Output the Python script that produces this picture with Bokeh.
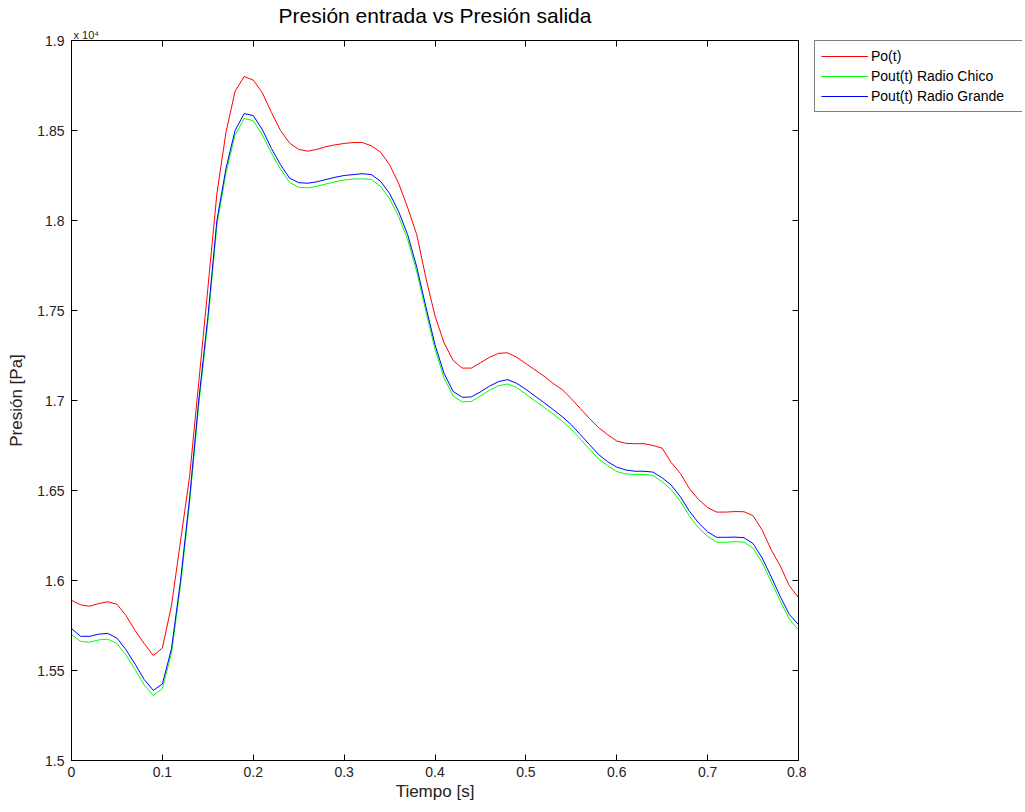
from bokeh.plotting import figure
from bokeh.layouts import row
from bokeh.models import (LinearAxis, FixedTicker, NumeralTickFormatter, CustomJSTickFormatter,
                          Legend, LegendItem, Title, Range1d)
from bokeh.embed import file_html
from bokeh.resources import INLINE

# Tiempo [s]
t = [0.00, 0.01, 0.02, 0.03, 0.04, 0.05, 0.06, 0.07, 0.08, 0.09,
     0.10, 0.11, 0.12, 0.13, 0.14, 0.15, 0.16, 0.17, 0.18, 0.19,
     0.20, 0.21, 0.22, 0.23, 0.24, 0.25, 0.26, 0.27, 0.28, 0.29,
     0.30, 0.31, 0.32, 0.33, 0.34, 0.35, 0.36, 0.37, 0.38, 0.39,
     0.40, 0.41, 0.42, 0.43, 0.44, 0.45, 0.46, 0.47, 0.48, 0.49,
     0.50, 0.51, 0.52, 0.53, 0.54, 0.55, 0.56, 0.57, 0.58, 0.59,
     0.60, 0.61, 0.62, 0.63, 0.64, 0.65, 0.66, 0.67, 0.68, 0.69,
     0.70, 0.71, 0.72, 0.73, 0.74, 0.75, 0.76, 0.77, 0.78, 0.79, 0.80]

# Po(t) [Pa]
po = [15890, 15865, 15857, 15872, 15882, 15868, 15805, 15722, 15650, 15583,
      15625, 15860, 16220, 16580, 17100, 17620, 18150, 18490, 18718, 18800,
      18780, 18710, 18600, 18500, 18430, 18395, 18385, 18395, 18410, 18420,
      18428, 18433, 18433, 18415, 18380, 18310, 18206, 18070, 17920, 17680,
      17470, 17320, 17222, 17180, 17180, 17210, 17240, 17262, 17265, 17240,
      17205, 17170, 17135, 17095, 17060, 17010, 16955, 16900, 16850, 16810,
      16775, 16762, 16760, 16760, 16750, 16735, 16655, 16595, 16510, 16450,
      16405, 16380, 16380, 16383, 16382, 16360, 16280, 16170, 16080, 15970, 15905]

# Pout(t) Radio Chico [Pa]
pout_chico = [15700, 15662, 15657, 15670, 15674, 15650, 15585, 15505, 15420, 15361,
              15400, 15595, 15975, 16435, 16975, 17435, 17975, 18265, 18475, 18567,
              18555, 18475, 18375, 18285, 18212, 18185, 18181, 18190, 18203, 18215,
              18225, 18230, 18231, 18228, 18190, 18122, 18022, 17893, 17715, 17495,
              17285, 17125, 17025, 16992, 16995, 17025, 17057, 17082, 17092, 17072,
              17035, 16998, 16962, 16925, 16885, 16840, 16785, 16730, 16675, 16638,
              16605, 16592, 16589, 16590, 16584, 16548, 16505, 16440, 16358, 16292,
              16245, 16213, 16212, 16216, 16213, 16180, 16100, 15993, 15885, 15785, 15726]

# Pout(t) Radio Grande [Pa]
pout_grande = [15733, 15690, 15690, 15702, 15706, 15680, 15615, 15535, 15450, 15390,
               15425, 15620, 16000, 16460, 17000, 17461, 18000, 18290, 18500, 18594,
               18583, 18505, 18400, 18310, 18235, 18210, 18207, 18215, 18228, 18240,
               18250, 18255, 18260, 18255, 18218, 18150, 18050, 17920, 17740, 17520,
               17310, 17150, 17050, 17018, 17020, 17048, 17080, 17105, 17116, 17095,
               17062, 17025, 16988, 16950, 16910, 16865, 16810, 16755, 16700, 16660,
               16630, 16614, 16607, 16607, 16602, 16570, 16530, 16465, 16385, 16320,
               16270, 16240, 16240, 16241, 16238, 16205, 16125, 16020, 15910, 15810, 15755]

x_ticks = [0, 0.1, 0.2, 0.3, 0.4, 0.5, 0.6, 0.7, 0.8]
y_ticks = [15000, 15500, 16000, 16500, 17000, 17500, 18000, 18500, 19000]
series_names = ["Po(t)", "Pout(t) Radio Chico", "Pout(t) Radio Grande"]
colors = ["#ff0000", "#00ff00", "#0000ff"]

FONT = "Liberation Sans"

p = figure(frame_width=727, frame_height=720, output_backend="svg", toolbar_location=None,
           x_range=Range1d(0, 0.8), y_range=Range1d(15000, 19000),
           min_border_left=71, min_border_right=8, min_border_top=40, min_border_bottom=52)

p.title.text = "Presión entrada vs Presión salida"
p.title.align = "center"
p.title.text_font = FONT
p.title.text_font_size = "21px"
p.title.text_font_style = "normal"
p.title.text_color = "black"
p.title.offset = 0
p.title.standoff = 0

p.grid.visible = False
p.outline_line_color = "black"
p.outline_line_width = 1
p.outline_line_alpha = 1
p.background_fill_color = "white"
p.border_fill_color = "white"

xf = NumeralTickFormatter(format="0.[0]")
yf = CustomJSTickFormatter(code="return String(Math.round(tick / 10) / 1000);")
blank = CustomJSTickFormatter(code="return '';")

for ax in p.xaxis:
    ax.ticker = FixedTicker(ticks=x_ticks)
    ax.formatter = xf
    ax.axis_label = "Tiempo [s]"
for ax in p.yaxis:
    ax.ticker = FixedTicker(ticks=y_ticks)
    ax.formatter = yf
    ax.axis_label = "Presión [Pa]"

for ax in p.xaxis + p.yaxis:
    ax.major_tick_in = 6
    ax.major_tick_out = 0
    ax.minor_tick_line_color = None
    ax.axis_line_color = "black"
    ax.major_tick_line_color = "black"
    ax.major_label_text_font = FONT
    ax.major_label_text_font_size = "14px"
    ax.major_label_text_color = "#222222"
    ax.axis_label_text_font = FONT
    ax.axis_label_text_font_size = "17px"
    ax.axis_label_text_font_style = "normal"
    ax.axis_label_text_color = "#222222"
p.xaxis.major_label_standoff = 6
p.xaxis.axis_label_standoff = 2
p.yaxis.major_label_standoff = 7
p.yaxis.axis_label_standoff = 8

top_ax = LinearAxis(ticker=FixedTicker(ticks=x_ticks), formatter=blank, major_tick_in=6,
                    major_tick_out=0, minor_tick_line_color=None, major_label_standoff=0)
right_ax = LinearAxis(ticker=FixedTicker(ticks=y_ticks), formatter=blank, major_tick_in=6,
                      major_tick_out=0, minor_tick_line_color=None, major_label_standoff=0)
p.add_layout(top_ax, "above")
p.add_layout(right_ax, "right")

mult = Title(text="x 10\u2074", align="left", text_font=FONT, text_font_size="11px",
             text_font_style="normal", text_color="#222222", offset=2, standoff=0)
p.add_layout(mult, "above")

data_series = [po, pout_chico, pout_grande]
for ys, c in zip(data_series, colors):
    p.line(t, ys, line_color=c, line_width=1)

# legend panel to the right of the axes (same series; its ranges keep the lines out of view)
q = figure(frame_width=208, frame_height=720, output_backend="svg", toolbar_location=None,
           x_range=Range1d(1, 2), y_range=Range1d(0, 1), x_axis_type=None, y_axis_type=None,
           min_border_left=8, min_border_right=0, min_border_top=40, min_border_bottom=52)
q.outline_line_color = None
q.grid.visible = False
q.border_fill_color = "white"
q.background_fill_color = "white"
items = []
for name, ys, c in zip(series_names, data_series, colors):
    r = q.line(t, ys, line_color=c, line_width=1)
    items.append(LegendItem(label=name, renderers=[r]))

legend = Legend(items=items, location="top_left")
legend.border_line_color = "black"
legend.border_line_width = 1
legend.background_fill_color = "white"
legend.background_fill_alpha = 1
legend.label_text_font = FONT
legend.label_text_font_size = "14px"
legend.label_text_color = "black"
legend.glyph_width = 47
legend.glyph_height = 18
legend.label_height = 18
legend.label_width = 146
legend.label_standoff = 3
legend.spacing = 2
legend.padding = 6
legend.margin = 0
q.add_layout(legend, "center")

open("out.html", "w").write(file_html(row(p, q), INLINE))
